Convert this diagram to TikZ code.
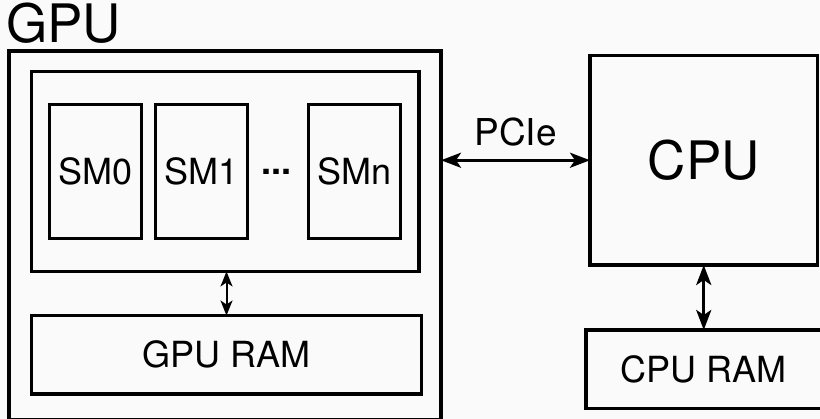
\documentclass[tikz,border=0pt]{standalone}
\usepackage{fontspec}
\setmainfont{TeX Gyre Heros}
\usetikzlibrary{arrows.meta}
\definecolor{bgcol}{RGB}{250,250,250}
\begin{document}
\begin{tikzpicture}[x=1pt,y=-1pt,
  box/.style={draw=black,line width=3.3pt,inner sep=0pt,outer sep=0pt,
    font=\fontsize{36}{36}\selectfont},
  smbox/.style={box,minimum width=92pt,minimum height=134pt},
  bigarrow/.style={line width=3pt,{Stealth[length=20pt,width=15pt,inset=5pt]}-{Stealth[length=20pt,width=15pt,inset=5pt]}},
  smallarrow/.style={line width=2pt,{Stealth[length=15pt,width=12pt,inset=4pt]}-{Stealth[length=15pt,width=12pt,inset=4pt]}}]
\fill[bgcol] (0,0) rectangle (820,419);
\useasboundingbox (0,0) rectangle (820,419);
% labels
\node[anchor=base west,inner sep=0pt,font=\fontsize{53}{53}\selectfont] (gpulabel) at (6,43) {GPU};
% GPU boxes
\node[box,minimum width=432pt,minimum height=369pt] (gpu) at (225,235.5) {};
\node[box,minimum width=387.5pt,minimum height=200pt] (inner) at (225.25,171.5) {};
\node[smbox] (sm0) at (95.75,171.5) {SM0};
\node[smbox] (sm1) at (201.5,171.5) {SM1};
\node[smbox] (smn) at (354.5,171.5) {SMn};
\node[inner sep=0pt,font=\fontsize{36}{36}\selectfont\bfseries] (dots) at (276.5,171.5) {...};
\node[box,minimum width=390pt,minimum height=78.5pt] (gram) at (226.5,354.75) {GPU RAM};
% CPU boxes
\node[box,minimum width=227.5pt,minimum height=209.5pt,font=\fontsize{53}{53}\selectfont] (cpu) at (703.75,160.25) {CPU};
\node[box,minimum width=235.5pt,minimum height=78.5pt] (cram) at (703.75,369.25) {CPU RAM};
% connectors
\draw[smallarrow] (inner.south -| gram.north) -- (gram.north);
\draw[bigarrow] (gpu.east |- cpu.west) -- node[midway,anchor=base,yshift=15pt,inner sep=0pt,font=\fontsize{37}{37}\selectfont] (pcie) {PCIe} (cpu.west);
\draw[bigarrow] (cpu.south) -- (cram.north);
\end{tikzpicture}
\end{document}
